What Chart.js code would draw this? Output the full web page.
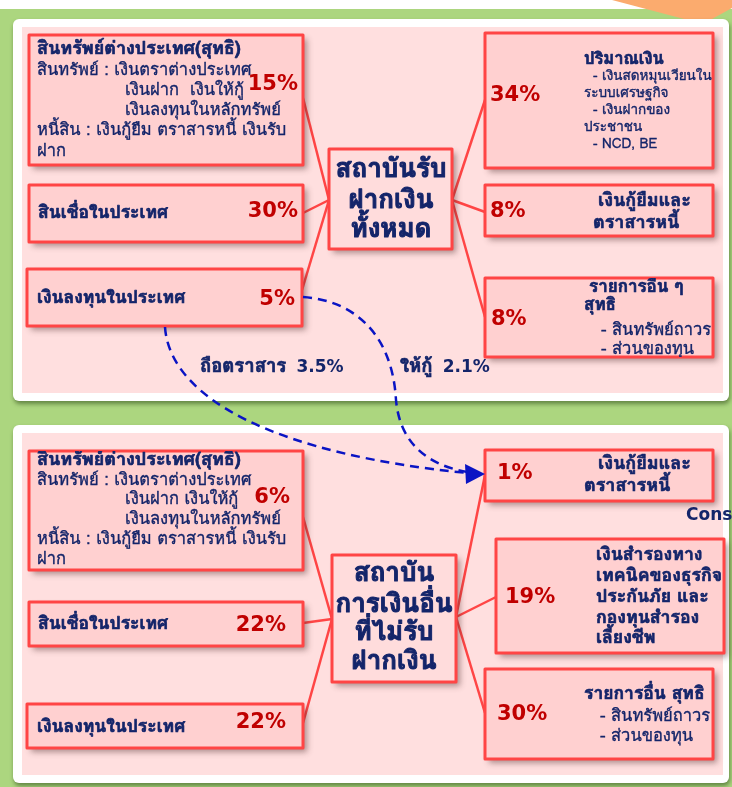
<!DOCTYPE html>
<html>
<head>
<meta charset="utf-8">
<script src="https://cdn.jsdelivr.net/npm/chart.js@4"></script>
<style>
  html, body { margin: 0; padding: 0; background: #fff; overflow: hidden; }
  canvas { display: block; }
</style>
</head>
<body>
<canvas id="diagram" width="732" height="787"></canvas>
<script>
// ---- data ----
const institutionNames = [
    ['สถาบันรับ', 'ฝากเงิน', 'ทั้งหมด'],
    ['สถาบัน', 'การเงินอื่น', 'ที่ไม่รับ', 'ฝากเงิน']
];

const depositAssetItems = [
    ['สินทรัพย์ต่างประเทศ(สุทธิ)', 'สินทรัพย์ : เงินตราต่างประเทศ', 'เงินฝาก  เงินให้กู้', 'เงินลงทุนในหลักทรัพย์', 'หนี้สิน : เงินกู้ยืม ตราสารหนี้ เงินรับ', 'ฝาก'],
    ['สินเชื่อในประเทศ'],
    ['เงินลงทุนในประเทศ']
];
const depositAssetShares = [15, 30, 5];

const depositLiabItems = [
    ['ปริมาณเงิน', '- เงินสดหมุนเวียนใน', 'ระบบเศรษฐกิจ', '- เงินฝากของ', 'ประชาชน', '- NCD, BE'],
    ['เงินกู้ยืมและ', 'ตราสารหนี้'],
    ['รายการอื่น ๆ', 'สุทธิ', '- สินทรัพย์ถาวร', '- ส่วนของทุน']
];
const depositLiabShares = [34, 8, 8];

const otherAssetItems = [
    ['สินทรัพย์ต่างประเทศ(สุทธิ)', 'สินทรัพย์ : เงินตราต่างประเทศ', 'เงินฝาก เงินให้กู้', 'เงินลงทุนในหลักทรัพย์', 'หนี้สิน : เงินกู้ยืม ตราสารหนี้ เงินรับ', 'ฝาก'],
    ['สินเชื่อในประเทศ'],
    ['เงินลงทุนในประเทศ']
];
const otherAssetShares = [6, 22, 22];

const otherLiabItems = [
    ['เงินกู้ยืมและ', 'ตราสารหนี้'],
    ['เงินสำรองทาง', 'เทคนิคของธุรกิจ', 'ประกันภัย และ', 'กองทุนสำรอง', 'เลี้ยงชีพ'],
    ['รายการอื่น สุทธิ', '- สินทรัพย์ถาวร', '- ส่วนของทุน']
];
const otherLiabShares = [1, 19, 30];

const flowLabels = ['ถือตราสาร', 'ให้กู้'];
const flowShares = [3.5, 2.1];

// ---- layout (page units = pixels of the 732x787 picture) ----
const NAVY = '#14256a';
const RED_TXT = '#c00000';
const RED_LINE = '#ff4545';
const FONT = 'Loma, Tahoma, "Noto Sans Thai", sans-serif';
const PCT_FONT = '"DejaVu Sans", Verdana, sans-serif';

const centers = [
    { r: [329, 149, 123, 100], cx: 391, ys: [171, 202, 231], left: [329, 200], right: [452, 200] },
    { r: [332, 555, 124, 127], cx: 394, ys: [575, 606, 634, 663], left: [332, 619], right: [456, 617] }
];

// bs = bold size, rs = regular size
const leftSide = [
    { center: 0, items: depositAssetItems, shares: depositAssetShares, boxes: [
        { r: [29, 35, 274, 130], port: [303, 98], pct: [298, 85, 'right'], xs: [37, 37, 125, 125, 37, 37], ys: [50, 71, 91, 111, 131, 152], bold: [1, 0, 0, 0, 0, 0], bs: 18, rs: 16.5 },
        { r: [29, 185, 274, 57], port: [303, 213], pct: [298, 212, 'right'], xs: [38], ys: [214], bold: [1], bs: 17.5 },
        { r: [27, 269, 275, 57], port: [302, 290], pct: [295, 300, 'right'], xs: [37], ys: [299], bold: [1], bs: 17.5 }
    ]},
    { center: 1, items: otherAssetItems, shares: otherAssetShares, boxes: [
        { r: [29, 451, 274, 119], port: [303, 517], pct: [290, 498, 'right'], xs: [37, 37, 125, 125, 37, 37], ys: [461, 481, 500, 520, 540, 560], bold: [1, 0, 0, 0, 0, 0], bs: 18, rs: 16.5 },
        { r: [29, 602, 274, 44], port: [303, 623], pct: [286, 626, 'right'], xs: [38], ys: [625], bold: [1], bs: 17.5 },
        { r: [27, 704, 276, 44], port: [303, 723], pct: [286, 723, 'right'], xs: [37], ys: [728], bold: [1], bs: 17.5 }
    ]}
];

const rightSide = [
    { center: 0, items: depositLiabItems, shares: depositLiabShares, boxes: [
        { r: [485, 33, 228, 135], port: [485, 100], pct: [490, 96, 'left'], xs: [584, 593, 584, 593, 584, 593], ys: [60, 77, 94, 111, 128, 145], bold: [1, 0, 0, 0, 0, 0], bs: 16.5, rs: 13.5 },
        { r: [485, 185, 228, 51], port: [485, 212], pct: [490, 212, 'left'], xs: [598, 593], ys: [202, 224], bold: [1, 1], bs: 18 },
        { r: [485, 278, 228, 79], port: [485, 317], pct: [491, 320, 'left'], xs: [589, 584, 601, 601], ys: [288, 306, 331, 350], bold: [1, 1, 0, 0], bs: 17, rs: 16.5 }
    ]},
    { center: 1, items: otherLiabItems, shares: otherLiabShares, boxes: [
        { r: [485, 450, 228, 51], port: [485, 475], pct: [497, 474, 'left'], xs: [598, 584], ys: [465, 487], bold: [1, 1], bs: 18 },
        { r: [496, 539, 228, 114], port: [496, 597], pct: [505, 598, 'left'], xs: [596, 596, 596, 596, 596], ys: [556, 577, 598, 619, 639], bold: [1, 1, 1, 1, 1], bs: 17.7 },
        { r: [485, 669, 228, 90], port: [485, 713], pct: [497, 715, 'left'], xs: [584, 600, 600], ys: [695, 717, 737], bold: [1, 0, 0], bs: 17.5, rs: 16.5 }
    ]}
];

// connector lines drawn by Chart.js from box ports to the institution box
function buildConnectors() {
    const sets = [];
    [leftSide, rightSide].forEach((side, s) => {
        side.forEach((group) => {
            const c = centers[group.center];
            const anchor = s === 0 ? c.left : c.right;
            group.boxes.forEach((box) => {
                sets.push({
                    type: 'line',
                    data: [{ x: anchor[0], y: anchor[1] }, { x: box.port[0], y: box.port[1] }],
                    borderColor: RED_LINE,
                    borderWidth: 2.5,
                    pointRadius: 0,
                    showLine: true,
                    clip: false
                });
            });
        });
    });
    return sets;
}

function fmtPct(v) {
    return `${v}%`;
}

// Loma bold is lighter than the original face, so thicken it a little
function heavyText(ctx, text, x, y, weight) {
    ctx.fillText(text, x, y);
    if (weight) {
        ctx.lineWidth = weight;
        ctx.strokeStyle = ctx.fillStyle;
        ctx.strokeText(text, x, y);
    }
}

const diagramPlugin = {
    id: 'diagram',
    beforeDatasetsDraw(chart) {
        const ctx = chart.ctx;
        const X = (v) => chart.scales.x.getPixelForValue(v);
        const Y = (v) => chart.scales.y.getPixelForValue(v);
        const rect = (x, y, w, h) => [X(x), Y(y), X(x + w) - X(x), Y(y + h) - Y(y)];

        ctx.save();
        // page background
        ctx.fillStyle = '#ffffff';
        ctx.fillRect(0, 0, chart.width, chart.height);
        ctx.fillStyle = '#acd67f';
        ctx.fillRect(X(0), Y(9), X(732) - X(0), Y(787) - Y(9));
        // orange corner shape
        ctx.fillStyle = '#fbab6e';
        ctx.beginPath();
        ctx.moveTo(X(612), Y(0));
        ctx.lineTo(X(732), Y(0));
        ctx.lineTo(X(732), Y(8));
        ctx.lineTo(X(703), Y(24));
        ctx.closePath();
        ctx.fill();

        // two white panels with pink inside
        [[13, 19, 716, 382], [13, 425, 716, 358]].forEach((p) => {
            ctx.save();
            ctx.shadowColor = 'rgba(40,70,20,0.55)';
            ctx.shadowBlur = 4;
            ctx.shadowOffsetX = 1;
            ctx.shadowOffsetY = 3;
            ctx.fillStyle = '#ffffff';
            ctx.beginPath();
            ctx.roundRect(...rect(...p), 6);
            ctx.fill();
            ctx.restore();
            ctx.fillStyle = '#ffdfdf';
            ctx.fillRect(...rect(p[0] + 9, p[1] + 8, p[2] - 15, p[3] - 16));
        });
        ctx.restore();
    },
    afterDatasetsDraw(chart) {
        const ctx = chart.ctx;
        const X = (v) => chart.scales.x.getPixelForValue(v);
        const Y = (v) => chart.scales.y.getPixelForValue(v);
        const rect = (x, y, w, h) => [X(x), Y(y), X(x + w) - X(x), Y(y + h) - Y(y)];

        function drawBox(r, fill) {
            ctx.save();
            ctx.shadowColor = 'rgba(70,40,40,0.45)';
            ctx.shadowBlur = 6;
            ctx.shadowOffsetX = 4;
            ctx.shadowOffsetY = 4;
            ctx.fillStyle = fill;
            ctx.fillRect(...rect(...r));
            ctx.restore();
            ctx.strokeStyle = RED_LINE;
            ctx.lineWidth = 3;
            ctx.strokeRect(...rect(...r));
        }

        ctx.save();
        ctx.textBaseline = 'middle';
        ctx.lineJoin = 'round';

        // side boxes
        [leftSide, rightSide].forEach((side) => {
            side.forEach((group) => {
                group.boxes.forEach((box, i) => {
                    drawBox(box.r, '#ffd0d0');
                    ctx.save();
                    ctx.beginPath();
                    ctx.rect(...rect(...box.r));
                    ctx.clip();
                    ctx.fillStyle = NAVY;
                    ctx.textAlign = 'left';
                    group.items[i].forEach((line, j) => {
                        ctx.font = box.bold[j] ? `bold ${box.bs}px ${FONT}` : `${box.rs}px ${FONT}`;
                        heavyText(ctx, line, X(box.xs[j]), Y(box.ys[j]), box.bold[j] ? 0.7 : 0.35);
                    });
                    ctx.restore();
                    ctx.fillStyle = RED_TXT;
                    ctx.font = `bold 21px ${PCT_FONT}`;
                    ctx.textAlign = box.pct[2];
                    ctx.fillText(fmtPct(group.shares[i]), X(box.pct[0]), Y(box.pct[1]));
                });
            });
        });

        // institution boxes
        centers.forEach((c, i) => {
            drawBox(c.r, '#ffdcdc');
            ctx.fillStyle = NAVY;
            ctx.font = `bold 26px ${FONT}`;
            ctx.textAlign = 'center';
            institutionNames[i].forEach((line, j) => {
                heavyText(ctx, line, X(c.cx), Y(c.ys[j]), 1);
            });
        });

        // dashed flows from domestic investment to the other institutions
        ctx.strokeStyle = '#0a14c4';
        ctx.lineWidth = 2.5;
        ctx.setLineDash([9, 6]);
        ctx.beginPath();
        ctx.moveTo(X(165), Y(327));
        ctx.bezierCurveTo(X(170), Y(400), X(280), Y(455), X(468), Y(473));
        ctx.stroke();
        ctx.beginPath();
        ctx.moveTo(X(303), Y(297));
        ctx.bezierCurveTo(X(350), Y(300), X(392), Y(330), X(396), Y(400));
        ctx.bezierCurveTo(X(400), Y(445), X(430), Y(466), X(468), Y(472));
        ctx.stroke();
        ctx.setLineDash([]);
        ctx.fillStyle = '#0a14c4';
        ctx.beginPath();
        ctx.moveTo(X(485), Y(474));
        ctx.lineTo(X(465), Y(464));
        ctx.lineTo(X(466), Y(484));
        ctx.closePath();
        ctx.fill();

        // flow labels
        ctx.fillStyle = NAVY;
        ctx.textAlign = 'left';
        flowLabels.forEach((label, i) => {
            const x = i === 0 ? 200 : 400;
            ctx.font = `bold 18.5px ${FONT}`;
            heavyText(ctx, label, X(x), Y(368), 0.7);
            const w = ctx.measureText(label + ' ').width + 4;
            ctx.font = `bold 17px ${PCT_FONT}`;
            ctx.fillText(`${flowShares[i]}%`, X(x) + w, Y(368));
        });

        // cut-off heading at the right edge
        ctx.font = `bold 17px ${PCT_FONT}`;
        ctx.fillText('Cons', X(686), Y(516));
        ctx.restore();
    }
};

const chart = new Chart(document.getElementById('diagram'), {
    type: 'scatter',
    data: { datasets: buildConnectors() },
    options: {
        responsive: false,
        animation: false,
        events: [],
        devicePixelRatio: 1,
        layout: { padding: 0 },
        plugins: { legend: { display: false }, tooltip: { enabled: false } },
        scales: {
            x: { type: 'linear', min: 0, max: 732, display: false },
            y: { type: 'linear', min: 0, max: 787, reverse: true, display: false }
        }
    },
    plugins: [diagramPlugin]
});
</script>
</body>
</html>
